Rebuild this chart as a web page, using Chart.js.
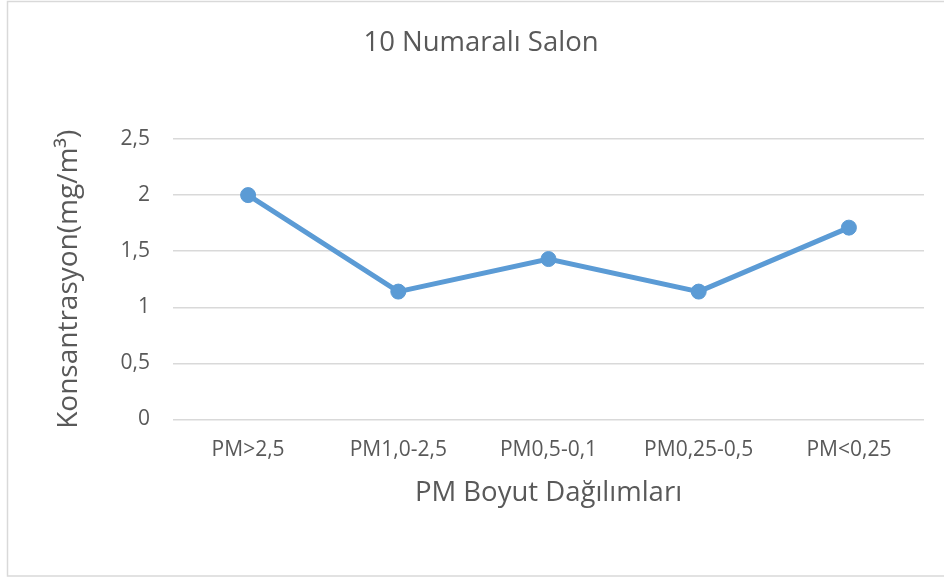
<!DOCTYPE html>
<html>
<head>
<meta charset="utf-8">
<script src="https://cdn.jsdelivr.net/npm/chart.js@4/dist/chart.umd.min.js"></script>
<style>
  html, body { margin: 0; padding: 0; background: #fff; overflow: hidden; }
  canvas { display: block; }
</style>
</head>
<body>
<canvas id="c" width="944" height="577"></canvas>
<script>
const chartTitle = '10 Numaralı Salon';
const xAxisTitle = 'PM Boyut Dağılımları';
const yAxisTitle = 'Konsantrasyon(mg/m³)';
const categories = ['PM>2,5', 'PM1,0-2,5', 'PM0,5-0,1', 'PM0,25-0,5', 'PM<0,25'];
const concentration = [2, 1.14, 1.43, 1.14, 1.71];
const yTickLabels = ['0', '0,5', '1', '1,5', '2', '2,5'];

const textColor = '#595959';
const gridColor = '#d9d9d9';
const lineColor = '#5B9BD5';
const fam = '"Open Sans", "DejaVu Sans", sans-serif';

const frame = {
  id: 'frame',
  beforeDraw(chart) {
    const ctx = chart.ctx;
    ctx.save();
    ctx.fillStyle = '#ffffff';
    ctx.fillRect(0, 0, chart.width, chart.height);
    ctx.strokeStyle = gridColor;
    ctx.lineWidth = 1.5;
    ctx.strokeRect(7.5, 1.5, chart.width + 20, chart.height - 2.5);
    ctx.restore();
  }
};

new Chart(document.getElementById('c'), {
  type: 'line',
  data: {
    labels: categories,
    datasets: [{
      data: concentration,
      borderColor: lineColor,
      backgroundColor: lineColor,
      borderWidth: 5,
      pointRadius: 7.5,
      pointHoverRadius: 7.5,
      pointBackgroundColor: lineColor,
      pointBorderColor: lineColor,
      pointBorderWidth: 1,
      tension: 0,
      fill: false
    }]
  },
  options: {
    responsive: false,
    animation: false,
    devicePixelRatio: 1,
    layout: { padding: { left: 38, right: 20, top: 0, bottom: 67.5 } },
    plugins: {
      legend: { display: false },
      tooltip: { enabled: false },
      title: {
        display: true,
        text: chartTitle,
        color: textColor,
        font: { family: fam, size: 27.5, weight: 'normal', lineHeight: 1.2 },
        padding: { top: 26.5, bottom: 79.5 }
      }
    },
    scales: {
      x: {
        offset: true,
        grid: { display: false, drawTicks: false },
        border: { display: false },
        ticks: {
          color: textColor,
          font: { family: fam, size: 21, lineHeight: 1.2 },
          padding: 17.5,
          maxRotation: 0,
          autoSkip: false
        },
        title: {
          display: true,
          text: xAxisTitle,
          color: textColor,
          font: { family: fam, size: 27.5, lineHeight: 1.2 },
          padding: { top: 4, bottom: 0 }
        },
        afterFit(scale) { scale.height = 90; }
      },
      y: {
        min: 0,
        max: 2.5,
        grid: { color: gridColor, lineWidth: 1.5, drawTicks: false },
        border: { display: false },
        ticks: {
          stepSize: 0.5,
          color: textColor,
          font: { family: fam, size: 21, lineHeight: 1.2 },
          padding: 23,
          callback: (v, i) => yTickLabels[i]
        },
        title: {
          display: true,
          text: yAxisTitle,
          color: textColor,
          font: { family: fam, size: 28, lineHeight: 1.2 },
          padding: { top: 14, bottom: 0 }
        },
        afterFit(scale) { scale.width = 135; }
      }
    }
  },
  plugins: [frame]
});
</script>
</body>
</html>
